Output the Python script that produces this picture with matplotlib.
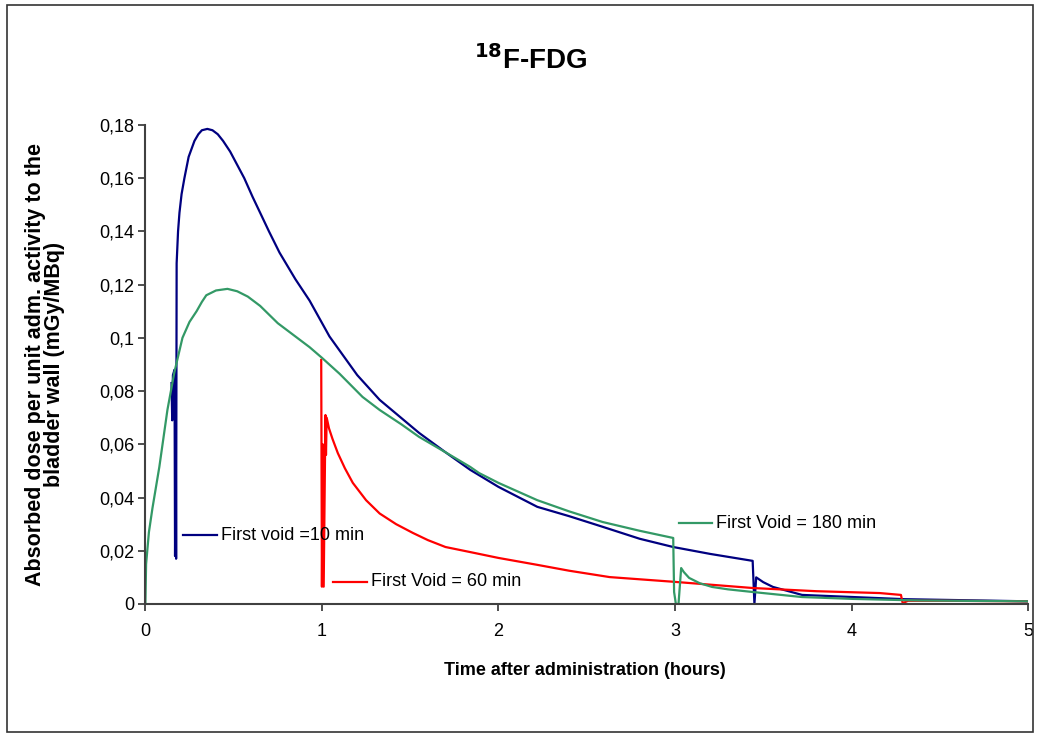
import numpy as np
import matplotlib.pyplot as plt
from matplotlib.ticker import FuncFormatter
from matplotlib.patches import Rectangle

plt.rcParams['font.family'] = ['Liberation Sans', 'DejaVu Sans']

# first void = 10 min (blue)
t_10 = [0.148, 0.152, 0.156, 0.165, 0.168, 0.172, 0.174, 0.177, 0.185, 0.193, 0.205, 0.221, 0.245, 0.278,
        0.30, 0.32, 0.351, 0.38, 0.41, 0.44, 0.48, 0.52, 0.56, 0.607, 0.65, 0.70, 0.760, 0.85, 0.93,
        1.043, 1.2, 1.327, 1.55, 1.7, 1.84, 2.0, 2.22, 2.4, 2.59, 2.8,
        2.99, 3.2, 3.44, 3.45, 3.46, 3.5, 3.555, 3.72, 4.01, 4.3, 5.0]
d_10 = [0.083, 0.069, 0.086, 0.088, 0.018, 0.070, 0.017, 0.128, 0.140, 0.147, 0.154, 0.160, 0.168, 0.174,
        0.1765, 0.178, 0.1785, 0.178, 0.1765, 0.174, 0.170, 0.165, 0.160, 0.153, 0.147, 0.140, 0.132, 0.122, 0.114,
        0.1005, 0.086, 0.0767, 0.0643, 0.057, 0.0504, 0.044, 0.0365, 0.033, 0.029, 0.0245,
        0.0214, 0.0188, 0.0162, 0.0, 0.0100, 0.0082, 0.0064, 0.0034, 0.0026, 0.0018, 0.001]

# first void = 60 min (red)
t_60 = [0.996, 1.0, 1.005, 1.01, 1.02, 1.023, 1.027, 1.04, 1.06, 1.09, 1.13, 1.175, 1.25, 1.327, 1.42,
        1.515, 1.60, 1.70, 1.84, 2.0, 2.22, 2.4, 2.63, 3.0, 3.44, 3.8, 4.16, 4.28, 4.29, 4.32, 4.5, 5.0]
d_60 = [0.0917, 0.0065, 0.060, 0.0065, 0.071, 0.056, 0.070, 0.066, 0.062, 0.0567, 0.051, 0.0455, 0.039, 0.034, 0.030,
        0.0267, 0.024, 0.0214, 0.0195, 0.0173, 0.0147, 0.0125, 0.0101, 0.0083, 0.006, 0.0048, 0.0041, 0.0034,
        0.0003, 0.0012, 0.0012, 0.001]

# first void = 180 min (green)
t_180 = [0, 0.004, 0.02, 0.04, 0.079, 0.125, 0.164, 0.21, 0.25, 0.29, 0.32, 0.345, 0.40, 0.465, 0.52, 0.58,
         0.65, 0.75, 0.85, 0.93, 1.0, 1.1, 1.23, 1.327, 1.45, 1.55, 1.7, 1.84, 1.89, 2.0, 2.22, 2.4, 2.59,
         2.8, 2.99, 2.995, 3.005, 3.02, 3.035, 3.05, 3.08, 3.14, 3.21, 3.3, 3.44, 3.72, 4.01, 4.39, 5.0]
d_180 = [0, 0.015, 0.027, 0.036, 0.0515, 0.073, 0.087, 0.100, 0.106, 0.110, 0.1135, 0.116, 0.1178, 0.1184,
         0.1175, 0.1155, 0.112, 0.1055, 0.1005, 0.0965, 0.0925, 0.0865, 0.0778, 0.0729, 0.0675, 0.0628, 0.057,
         0.0515, 0.0492, 0.0455, 0.039, 0.0348, 0.0308, 0.0275, 0.0248, 0.0045, 0.0, 0.0, 0.0135, 0.012, 0.0098,
         0.0078, 0.0064, 0.0055, 0.0045, 0.0026, 0.0019, 0.0013, 0.001]

blue = '#000080'
red = '#ff0000'
green = '#339966'

fig = plt.figure(figsize=(10.4, 7.37), dpi=100)
ax = fig.add_axes([0.1398, 0.1805, 0.8487, 0.65])

ax.plot(t_10, d_10, color=blue, lw=1.6)
ax.plot(t_60, d_60, color=red, lw=1.6)
ax.plot(t_180, d_180, color=green, lw=1.6)

# series labels (drawn like the excel text boxes)
labels = [('First void =10 min', blue, 0.213, 0.0259),
          ('First Void = 60 min', red, 1.064, 0.0083),
          ('First Void = 180 min', green, 3.02, 0.0304)]
for txt, c, x, y in labels:
    ax.plot([x, x + 0.19], [y, y], color=c, lw=1.6)
    ax.text(x + 0.215, y, txt, fontsize=13, va='center', ha='left')

ax.set_xlim(0, 5)
ax.set_ylim(0, 0.18)
ax.set_xticks([0, 1, 2, 3, 4, 5])
ax.set_yticks(np.arange(0, 0.181, 0.02))
ax.yaxis.set_major_formatter(FuncFormatter(lambda v, p: ('%g' % round(v, 2)).replace('.', ',')))

for s in ['top', 'right']:
    ax.spines[s].set_visible(False)
for s in ['left', 'bottom']:
    ax.spines[s].set_color('#404040')
    ax.spines[s].set_linewidth(1.5)
ax.tick_params(direction='out', length=5, width=1.3, color='#404040', labelsize=13)
ax.tick_params(axis='y', pad=3)
ax.tick_params(axis='x', pad=9)

ax.set_xlabel('Time after administration (hours)', fontsize=13, fontweight='bold')
ax.xaxis.set_label_coords(0.498, -0.122)
ax.set_ylabel('Absorbed dose per unit adm. activity to the\nbladder wall (mGy/MBq)',
              fontsize=15.5, fontweight='bold', linespacing=0.85)
ax.yaxis.set_label_coords(-0.091, 0.5)

fig.text(0.51, 0.918, r'$^{\mathbf{18}}$F-FDG', fontsize=20, fontweight='bold', ha='center', va='center')

fig.add_artist(Rectangle((7 / 1040, 5 / 737), 1026 / 1040, 727 / 737, transform=fig.transFigure,
                         fill=False, ec='#333333', lw=1.2))

fig.savefig('out.png', dpi=100)
